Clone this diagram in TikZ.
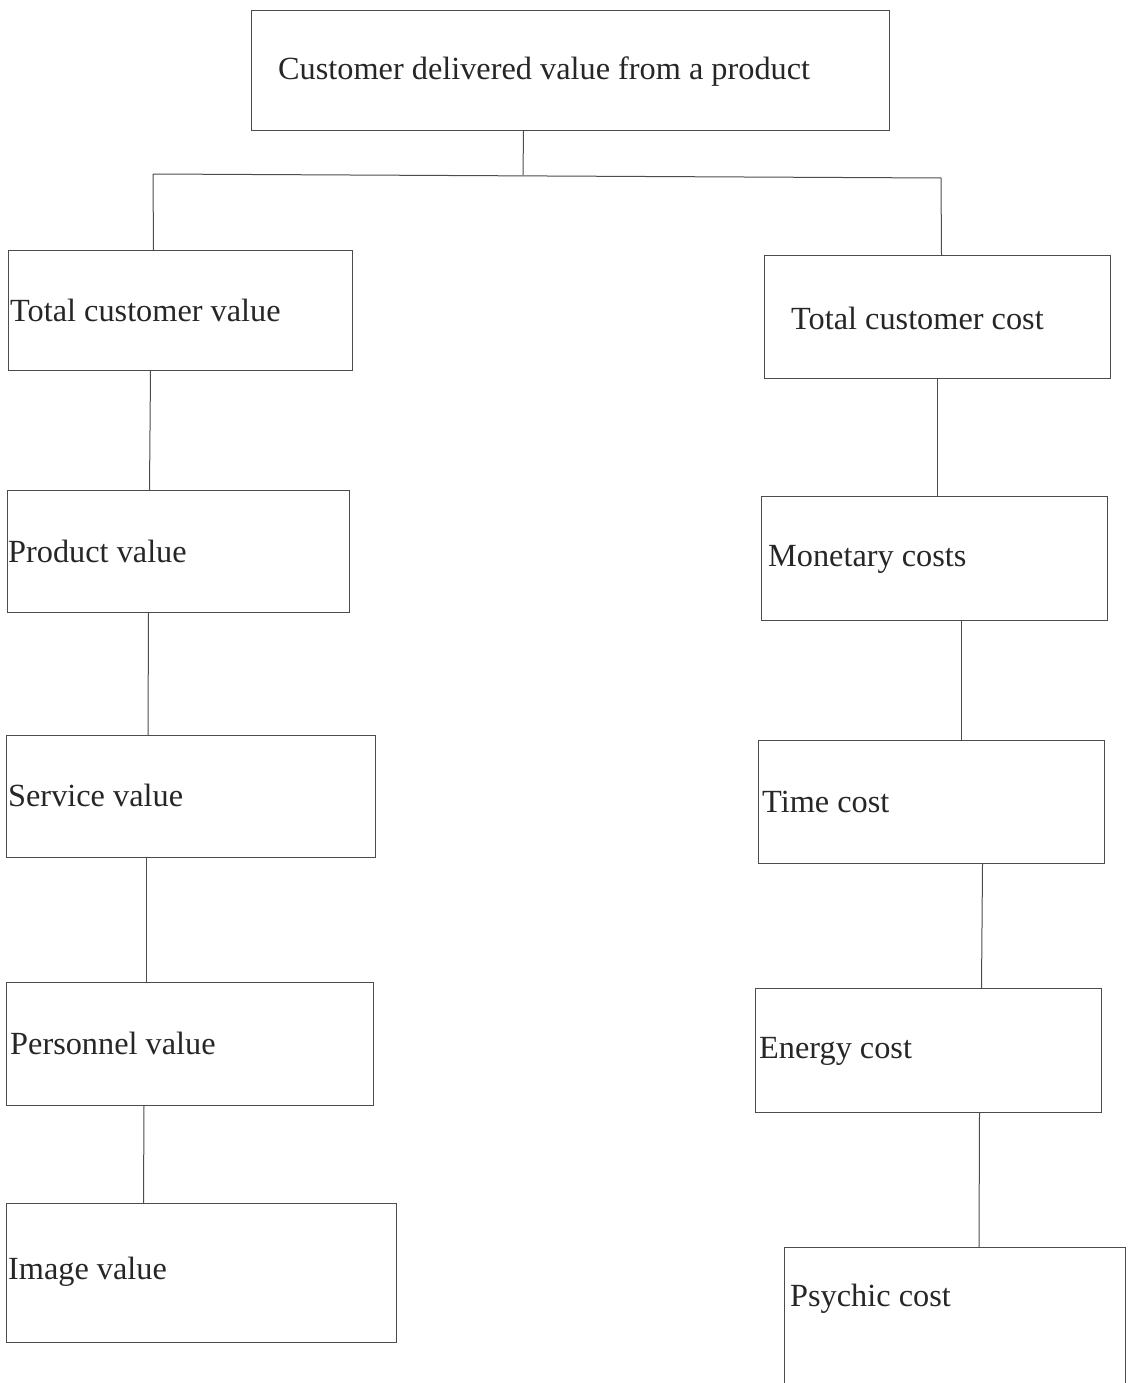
\documentclass[tikz,border=0pt]{standalone}
\usepackage{fontspec}
\setmainfont{Liberation Serif}
\begin{document}
\begin{tikzpicture}[x=1pt,y=-1pt,
  box/.style={draw=black!70, line width=1pt, rectangle, inner sep=0pt, anchor=north west},
  lbl/.style={anchor=west, inner sep=0pt, text=black!85, font=\fontsize{32.3}{38}\selectfont},
  link/.style={draw=black!70, line width=1pt}]
\useasboundingbox (0,0) rectangle (1128,1383);
\clip (0,0) rectangle (1128,1383);
% boxes
\node[box, minimum width=638pt, minimum height=120pt] (top) at (251,10) {};
\node[box, minimum width=344pt, minimum height=120pt] (tcv) at (8,250) {};
\node[box, minimum width=342pt, minimum height=122pt] (pv) at (7,490) {};
\node[box, minimum width=369pt, minimum height=122pt] (sv) at (6,735) {};
\node[box, minimum width=367pt, minimum height=123pt] (pe) at (6,982) {};
\node[box, minimum width=390pt, minimum height=139pt] (iv) at (6,1203) {};
\node[box, minimum width=346pt, minimum height=123pt] (tcc) at (764,255) {};
\node[box, minimum width=346pt, minimum height=124pt] (mc) at (761,496) {};
\node[box, minimum width=346pt, minimum height=123pt] (tc) at (758,740) {};
\node[box, minimum width=346pt, minimum height=124pt] (ec) at (755,988) {};
\node[box, minimum width=341pt, minimum height=160pt] (ps) at (784,1247) {};
% texts
\node[lbl] (topt) at (278,72) {Customer delivered value from a product};
\node[lbl] (tcvt) at (10,310) {Total customer value};
\node[lbl] (pvt) at (8,551) {Product value};
\node[lbl] (svt) at (8,795) {Service value};
\node[lbl] (pet) at (10,1043) {Personnel value};
\node[lbl] (ivt) at (8,1272) {Image value};
\node[lbl] (tcct) at (791,318) {Total customer cost};
\node[lbl] (mct) at (768,559) {Monetary costs};
\node[lbl] (tct) at (762,802) {Time cost};
\node[lbl] (ect) at (759,1051) {Energy cost};
\node[lbl] (pst) at (790,1299) {Psychic cost};
% connectors
\coordinate (jL) at (153,174);
\coordinate (jR) at (941,178);
\coordinate (jM) at (523,175);
\draw[link] ([xshift=-47pt]top.south) -- (jM);
\draw[link] (jL) -- (jR);
\draw[link] (jL) -- ([xshift=-27pt]tcv.north);
\draw[link] (jR) -- ([xshift=4pt]tcc.north);
\draw[link] ([xshift=-30pt]tcv.south) -- ([xshift=-29pt]pv.north);
\draw[link] ([xshift=-30pt]pv.south) -- ([xshift=-43pt]sv.north);
\draw[link] ([xshift=-45pt]sv.south) -- ([xshift=-44pt]pe.north);
\draw[link] ([xshift=-46pt]pe.south) -- ([xshift=-58pt]iv.north);
\draw[link] (tcc.south) -- ([xshift=3pt]mc.north);
\draw[link] ([xshift=27pt]mc.south) -- ([xshift=30pt]tc.north);
\draw[link] ([xshift=51pt]tc.south) -- ([xshift=53pt]ec.north);
\draw[link] ([xshift=51pt]ec.south) -- ([xshift=24pt]ps.north);
\end{tikzpicture}
\end{document}
